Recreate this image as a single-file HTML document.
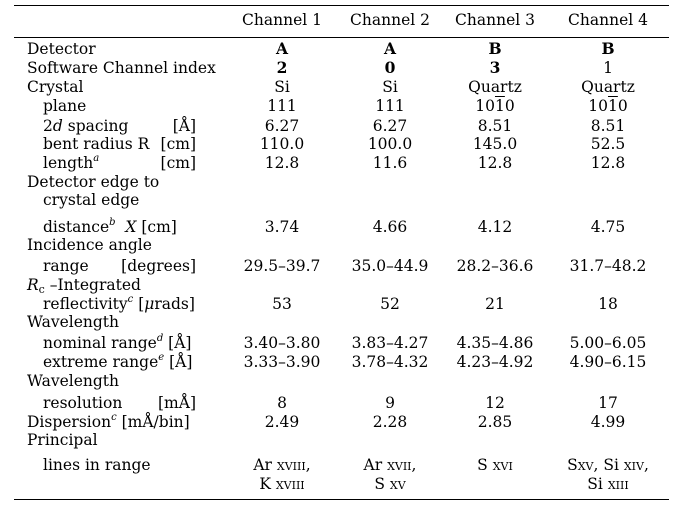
<!DOCTYPE html>
<html><head><meta charset="utf-8"><style>
body{margin:0;background:#fff;}
#t{position:relative;width:685px;height:508px;font-family:"DejaVu Serif","Liberation Serif",serif;font-size:15.5px;color:#000;overflow:hidden}
.r{position:absolute;left:14px;width:655px;height:1px;background:#000}
.l,.v,.u{position:absolute;height:18px;line-height:18px;white-space:nowrap}
.v{width:130px;text-align:center}
.u{text-align:right;width:80px;left:116px}
.c1{left:217px}.c2{left:325px}.c3{left:430px}.c4{left:543px}
.l{left:27px}.i{left:43px}
.sc{font-variant:small-caps}
sup,sub{font-size:10px;line-height:0;vertical-align:baseline;position:relative}
sup{top:-7px}
sub{top:3px;font-size:11px}
b{font-weight:bold}
</style></head><body>
<div id="t">
<div class="r" style="top:5px"></div>
<div class="r" style="top:37px"></div>
<div class="r" style="top:499px"></div>

<div class="v c1" style="top:11px">Channel 1</div>
<div class="v c2" style="top:11px">Channel 2</div>
<div class="v c3" style="top:11px">Channel 3</div>
<div class="v c4" style="top:11px">Channel 4</div>

<div class="l" style="top:40px">Detector</div>
<div class="v c1" style="top:40px"><b>A</b></div>
<div class="v c2" style="top:40px"><b>A</b></div>
<div class="v c3" style="top:40px"><b>B</b></div>
<div class="v c4" style="top:40px"><b>B</b></div>

<div class="l" style="top:59px">Software Channel index</div>
<div class="v c1" style="top:59px"><b>2</b></div>
<div class="v c2" style="top:59px"><b>0</b></div>
<div class="v c3" style="top:59px"><b>3</b></div>
<div class="v c4" style="top:59px">1</div>

<div class="l" style="top:78px">Crystal</div>
<div class="v c1" style="top:78px">Si</div>
<div class="v c2" style="top:78px">Si</div>
<div class="v c3" style="top:78px">Quartz</div>
<div class="v c4" style="top:78px">Quartz</div>

<div class="l i" style="top:97px">plane</div>
<div class="v c1" style="top:97px">111</div>
<div class="v c2" style="top:97px">111</div>
<div class="v c3" style="top:97px">10<span style="text-decoration:overline">1</span>0</div>
<div class="v c4" style="top:97px">10<span style="text-decoration:overline">1</span>0</div>

<div class="l i" style="top:117px">2<i>d</i> spacing</div>
<div class="u" style="top:117px">[Å]</div>
<div class="v c1" style="top:117px">6.27</div>
<div class="v c2" style="top:117px">6.27</div>
<div class="v c3" style="top:117px">8.51</div>
<div class="v c4" style="top:117px">8.51</div>

<div class="l i" style="top:135px">bent radius R</div>
<div class="u" style="top:135px">[cm]</div>
<div class="v c1" style="top:135px">110.0</div>
<div class="v c2" style="top:135px">100.0</div>
<div class="v c3" style="top:135px">145.0</div>
<div class="v c4" style="top:135px">52.5</div>

<div class="l i" style="top:154px">length<sup><i>a</i></sup></div>
<div class="u" style="top:154px">[cm]</div>
<div class="v c1" style="top:154px">12.8</div>
<div class="v c2" style="top:154px">11.6</div>
<div class="v c3" style="top:154px">12.8</div>
<div class="v c4" style="top:154px">12.8</div>

<div class="l" style="top:173px">Detector edge to</div>
<div class="l i" style="top:191px">crystal edge</div>
<div class="l i" style="top:218px">distance<sup><i>b</i></sup> &nbsp;<i>X</i> [cm]</div>
<div class="v c1" style="top:218px">3.74</div>
<div class="v c2" style="top:218px">4.66</div>
<div class="v c3" style="top:218px">4.12</div>
<div class="v c4" style="top:218px">4.75</div>

<div class="l" style="top:236px">Incidence angle</div>
<div class="l i" style="top:257px">range</div>
<div class="u" style="top:257px">[degrees]</div>
<div class="v c1" style="top:257px">29.5–39.7</div>
<div class="v c2" style="top:257px">35.0–44.9</div>
<div class="v c3" style="top:257px">28.2–36.6</div>
<div class="v c4" style="top:257px">31.7–48.2</div>

<div class="l" style="top:276px"><i>R</i><sub>c</sub> –Integrated</div>
<div class="l i" style="top:295px">reflectivity<sup><i>c</i></sup> [<i>μ</i>rads]</div>
<div class="v c1" style="top:295px">53</div>
<div class="v c2" style="top:295px">52</div>
<div class="v c3" style="top:295px">21</div>
<div class="v c4" style="top:295px">18</div>

<div class="l" style="top:313px">Wavelength</div>
<div class="l i" style="top:334px">nominal range<sup><i>d</i></sup> [Å]</div>
<div class="v c1" style="top:334px">3.40–3.80</div>
<div class="v c2" style="top:334px">3.83–4.27</div>
<div class="v c3" style="top:334px">4.35–4.86</div>
<div class="v c4" style="top:334px">5.00–6.05</div>

<div class="l i" style="top:353px">extreme range<sup><i>e</i></sup> [Å]</div>
<div class="v c1" style="top:353px">3.33–3.90</div>
<div class="v c2" style="top:353px">3.78–4.32</div>
<div class="v c3" style="top:353px">4.23–4.92</div>
<div class="v c4" style="top:353px">4.90–6.15</div>

<div class="l" style="top:372px">Wavelength</div>
<div class="l i" style="top:394px">resolution</div>
<div class="u" style="top:394px">[mÅ]</div>
<div class="v c1" style="top:394px">8</div>
<div class="v c2" style="top:394px">9</div>
<div class="v c3" style="top:394px">12</div>
<div class="v c4" style="top:394px">17</div>

<div class="l" style="top:413px">Dispersion<sup><i>c</i></sup> [mÅ/bin]</div>
<div class="v c1" style="top:413px">2.49</div>
<div class="v c2" style="top:413px">2.28</div>
<div class="v c3" style="top:413px">2.85</div>
<div class="v c4" style="top:413px">4.99</div>

<div class="l" style="top:431px">Principal</div>
<div class="l i" style="top:456px">lines in range</div>
<div class="v c1" style="top:456px">Ar <span class="sc">xviii</span>,</div>
<div class="v c2" style="top:456px">Ar <span class="sc">xvii</span>,</div>
<div class="v c3" style="top:456px">S <span class="sc">xvi</span></div>
<div class="v c4" style="top:456px">S<span class="sc">xv</span>, Si <span class="sc">xiv</span>,</div>
<div class="v c1" style="top:475px">K <span class="sc">xviii</span></div>
<div class="v c2" style="top:475px">S <span class="sc">xv</span></div>
<div class="v c4" style="top:475px">Si <span class="sc">xiii</span></div>
</div>
</body></html>
